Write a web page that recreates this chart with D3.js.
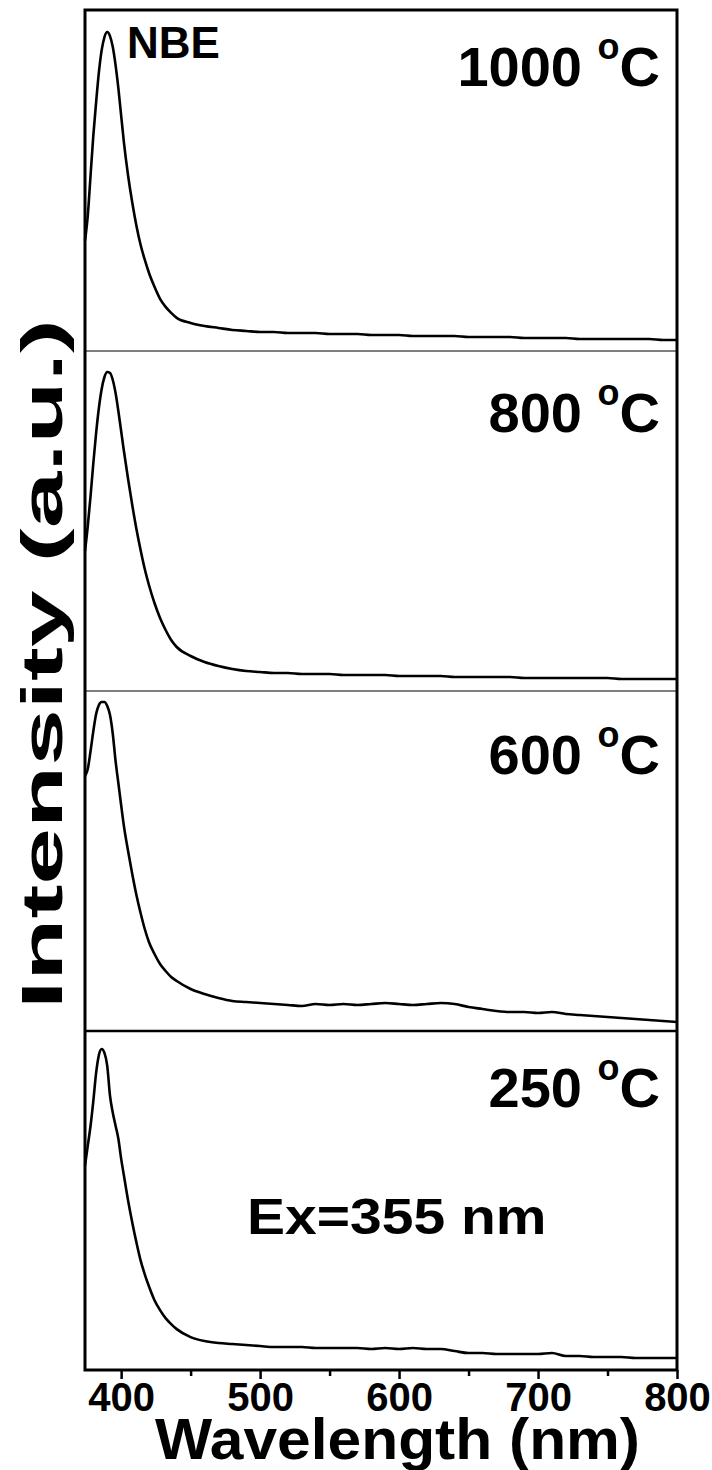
<!DOCTYPE html>
<meta charset="utf-8">
<style>body{margin:0;background:#fff}</style>
<svg width="712" height="1470"></svg>
<script src="https://cdn.jsdelivr.net/npm/d3@7"></script>
<script>
// wavelength grid (nm), shared by all four spectra
var wavelength = [374,376,378,380,382,384,386,388,390,392,394,396,398,400,402,405,408,411,414,417,420,424,428,432,436,440,
	450,460,470,480,490,500,510,520,530,540,550,560,570,580,590,600,610,620,630,640,650,660,670,680,690,700,710,720,730,740,750,760,770,780,790,800];
var labels = ["1000", "800", "600", "250"];
// PL intensity (a.u.), each panel on its own 0-340 scale
var pl1000 = [110,135,175,215,248,278,300,313,318,314,303,285,262,235,208,175,148,125,106,91,78,64,52,44,38,33,
	28,25,23,21,20,19,19,18,18,18,17,17,17,16,16,16,15,15,15,15,14,14,14,14,13,13,13,13,12,12,12,12,12,12,11,11];
var pl800 = [140,165,195,228,258,283,302,314,319,318,311,298,280,260,240,212,186,162,141,122,106,88,73,61,51,44,
	35,29,25,22,20,19,18,18,17,17,17,16,16,16,16,15,15,15,15,14,14,14,14,14,13,13,13,13,13,13,13,12,12,12,12,12];
var pl600 = [255,262,280,300,317,326,329,329,325,316,297,270,248,226,205,180,157,136,118,102,89,77,67,60,54,50,
	42,37,33,30,29,28,27,26,25,27,26,27,26,27,28,27,26,27,28,27,24,22,20,19,19,18,19,17,16,15,14,13,12,11,10,9];
var pl250 = [205,225,245,270,298,316,322,318,305,275,258,245,232,212,195,170,148,128,110,96,84,70,60,52,46,41,
	33,29,27,26,25,24,23,23,23,22,22,22,22,21,22,21,22,21,21,19,17,17,16,16,16,16,17,14,14,13,13,13,12,12,12,12];
var series = [pl1000, pl800, pl600, pl250];
var majorTicks = [400, 500, 600, 700, 800];
var minorTicks = [450, 550, 650, 750];

var svg = d3.select("svg"),
		font = "'Liberation Sans', Arial, sans-serif";
var left = 85, right = 677;
var tops = [10, 351, 691, 1031], bottoms = [351, 691, 1031, 1370];
var labelBase = [86, 432, 774, 1107];

var x = d3.scaleLinear().domain([374, 800]).range([left, right]);

series.forEach(function(vals, i) {
	var y = d3.scaleLinear().domain([0, 340]).range([bottoms[i], tops[i]]);
	var line = d3.line()
		.x(function(d, j) { return x(wavelength[j]); })
		.y(function(d) { return y(d); })
		.curve(d3.curveMonotoneX);
	svg.append("path")
		.datum(vals)
		.attr("fill", "none")
		.attr("stroke", "#000")
		.attr("stroke-width", 2.6)
		.attr("stroke-linejoin", "round")
		.attr("d", line);

	// temperature label
	var t = svg.append("text")
		.attr("x", 660).attr("y", labelBase[i])
		.attr("text-anchor", "end")
		.attr("font-family", font)
		.attr("font-weight", "bold")
		.attr("font-size", 56);
	t.append("tspan").text(labels[i] + " ");
	t.append("tspan").attr("font-size", 36).attr("dy", -27).text("o");
	t.append("tspan").attr("dy", 27).text("C");
});

// panel separators
svg.selectAll(".sep").data([1, 2, 3]).enter().append("line")
	.attr("x1", left).attr("x2", right)
	.attr("y1", function(i) { return tops[i]; })
	.attr("y2", function(i) { return tops[i]; })
	.attr("stroke", "#000")
	.attr("stroke-width", function(i) { return i === 3 ? 2.5 : 1.2; });

// frame
svg.append("rect")
	.attr("x", left).attr("y", tops[0])
	.attr("width", right - left).attr("height", bottoms[3] - tops[0])
	.attr("fill", "none").attr("stroke", "#000").attr("stroke-width", 3);

// x axis
var axis = svg.append("g")
	.attr("transform", "translate(0," + bottoms[3] + ")")
	.call(d3.axisBottom(x).tickValues(majorTicks).tickSize(9).tickPadding(4).tickFormat(d3.format("d")));
axis.select(".domain").remove();
axis.selectAll(".tick line").attr("stroke-width", 2.5);
axis.selectAll(".tick text")
	.attr("font-family", font).attr("font-weight", "bold").attr("font-size", 40).attr("fill", "#000");
svg.append("g")
	.attr("transform", "translate(0," + bottoms[3] + ")")
	.call(d3.axisBottom(x).tickValues(minorTicks).tickSize(6).tickFormat(""))
	.call(function(g) { g.select(".domain").remove(); })
	.selectAll(".tick line").attr("stroke-width", 2.5);

// axis titles
svg.append("text")
	.attr("x", (155 + 640) / 2).attr("y", 1459)
	.attr("text-anchor", "middle")
	.attr("font-family", font).attr("font-weight", "bold").attr("font-size", 57)
	.attr("textLength", 485).attr("lengthAdjust", "spacingAndGlyphs")
	.text("Wavelength (nm)");

svg.append("text")
	.attr("transform", "translate(62,664) rotate(-90)")
	.attr("text-anchor", "middle")
	.attr("font-family", font).attr("font-weight", "bold").attr("font-size", 58)
	.attr("textLength", 690).attr("lengthAdjust", "spacingAndGlyphs")
	.text("Intensity (a.u.)");

// annotations
svg.append("text")
	.attr("x", 127).attr("y", 58)
	.attr("font-family", font).attr("font-weight", "bold").attr("font-size", 44)
	.text("NBE");

svg.append("g")
	.attr("transform", "translate(247,1234) scale(1.14,1)")
	.append("text")
	.attr("font-family", font).attr("font-weight", "bold").attr("font-size", 50)
	.text("Ex=355 nm");
</script>
